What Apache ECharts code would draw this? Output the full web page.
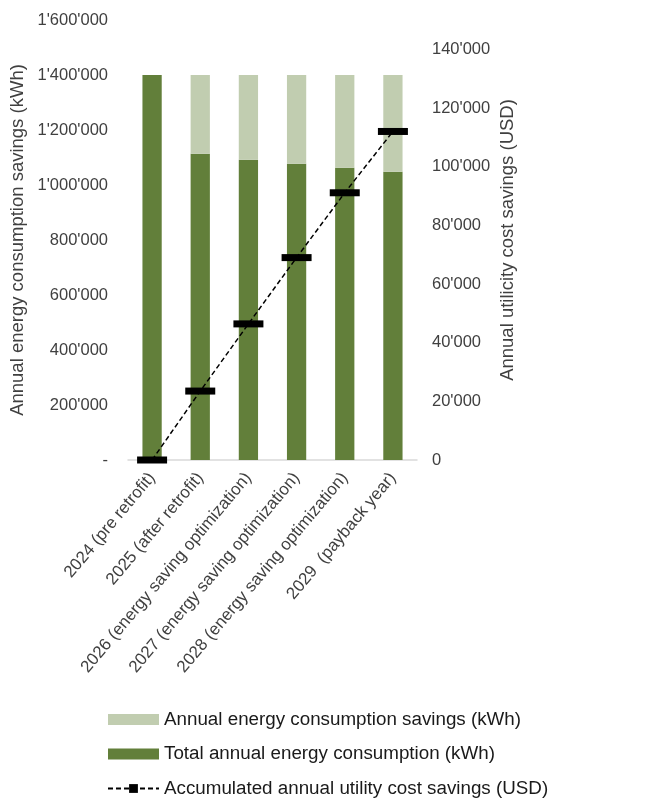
<!DOCTYPE html>
<html>
<head>
<meta charset="utf-8">
<script src="https://cdn.jsdelivr.net/npm/echarts@6/dist/echarts.min.js"></script>
<style>
  html, body { margin: 0; padding: 0; background: #fff; }
  #main { width: 651px; height: 798px; }
</style>
</head>
<body>
<div id="main"></div>
<script>
const categories = [
  '2024 (pre retrofit)',
  '2025 (after retrofit)',
  '2026 (energy saving optimization)',
  '2027 (energy saving optimization)',
  '2028 (energy saving optimization)',
  '2029  (payback year)'
]
// kWh
const totalConsumption = [1400000, 1114000, 1092000, 1077000, 1063000, 1048000]
const consumptionSavings = [0, 286000, 308000, 323000, 337000, 352000]
// USD
const costSavings = [0, 23500, 46400, 69000, 91100, 112000]

const fmt = v => String(v).replace(/\B(?=(\d{3})+(?!\d))/g, "'")
const font = '"Liberation Sans", Arial, sans-serif'

const chart = echarts.init(document.getElementById('main'))
chart.setOption({
  animation: false,
  textStyle: { fontFamily: font },
  grid: { left: 128, right: 234, top: 20, bottom: 338 },
  legend: {
    orient: 'vertical',
    left: 107,
    top: 710,
    height: 120,
    padding: 0,
    itemWidth: 51,
    itemHeight: 11,
    itemGap: 15.5,
    data: [
      { name: 'Annual energy consumption savings (kWh)', icon: 'rect' },
      { name: 'Total annual energy consumption (kWh)', icon: 'rect' },
      'Accumulated annual utility cost savings (USD)'
    ],
    textStyle: { fontSize: 18.8, color: '#1a1a1a', fontFamily: font }
  },
  xAxis: {
    type: 'category',
    data: categories,
    axisLine: { lineStyle: { color: '#d9d9d9', width: 1.5 } },
    axisTick: { show: false },
    axisLabel: { rotate: 50, fontSize: 17, color: '#404040', margin: 15, interval: 0 }
  },
  yAxis: [
    {
      type: 'value',
      min: 0,
      max: 1600000,
      interval: 200000,
      name: 'Annual energy consumption savings (kWh)',
      nameLocation: 'middle',
      nameGap: 101,
      nameTextStyle: { fontSize: 18.5, color: '#404040' },
      splitLine: { show: false },
      axisLine: { show: false },
      axisTick: { show: false },
      axisLabel: {
        fontSize: 16.5, color: '#404040', margin: 20,
        formatter: v => v === 0 ? '-' : fmt(v)
      }
    },
    {
      type: 'value',
      min: 0,
      max: 150000,
      interval: 20000,
      name: 'Annual utilicity cost savings (USD)',
      nameLocation: 'middle',
      nameRotate: 90,
      nameGap: 81,
      nameTextStyle: { fontSize: 18.5, color: '#404040' },
      splitLine: { show: false },
      axisLine: { show: false },
      axisTick: { show: false },
      axisLabel: {
        fontSize: 16.5, color: '#404040', margin: 15,
        showMaxLabel: false,
        formatter: v => fmt(v)
      }
    }
  ],
  series: [
    {
      name: 'Total annual energy consumption (kWh)',
      type: 'bar',
      stack: 'energy',
      barWidth: '40%',
      itemStyle: { color: '#627f3a' },
      data: totalConsumption
    },
    {
      name: 'Annual energy consumption savings (kWh)',
      type: 'bar',
      stack: 'energy',
      barWidth: '40%',
      itemStyle: { color: '#c1cdb0' },
      data: consumptionSavings
    },
    {
      name: 'Accumulated annual utility cost savings (USD)',
      type: 'line',
      yAxisIndex: 1,
      z: 5,
      symbol: 'rect',
      symbolSize: [30, 7],
      itemStyle: { color: '#000' },
      lineStyle: { color: '#000', width: 1.5, type: [5, 3] },
      data: costSavings
    }
  ]
})
</script>
</body>
</html>
